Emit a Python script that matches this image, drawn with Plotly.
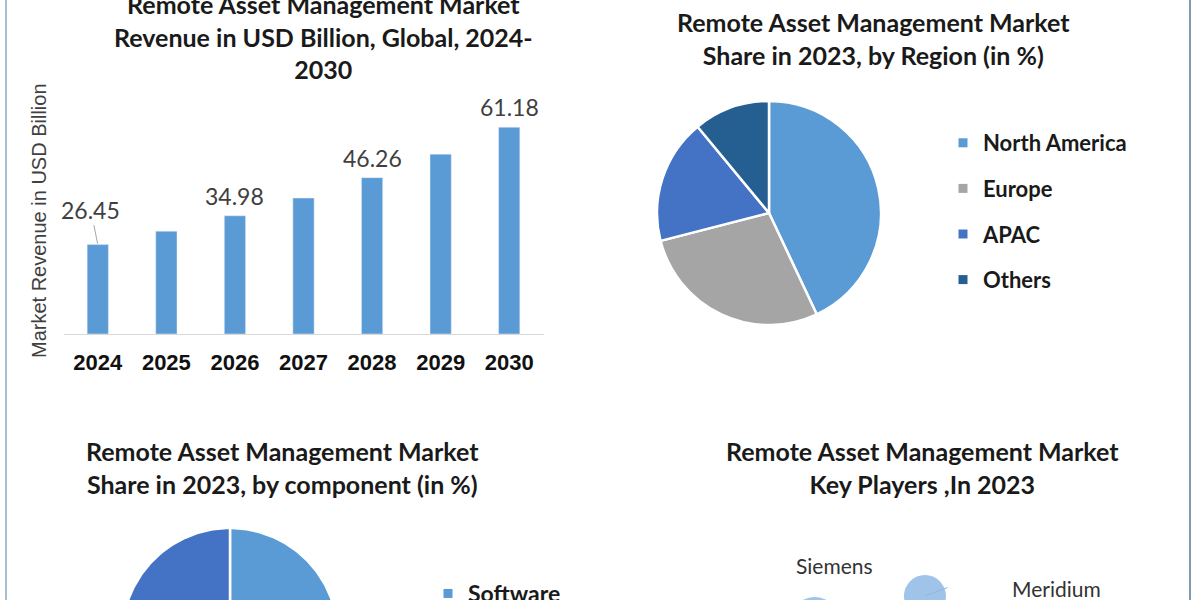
import numpy as np
import plotly.graph_objects as go

# ---------------- data ----------------
years = ["2024", "2025", "2026", "2027", "2028", "2029", "2030"]
revenue = [26.45, 30.42, 34.98, 40.23, 46.26, 53.20, 61.18]
labeled_years = ["2024", "2026", "2028", "2030"]

regions = ["North America", "Europe", "APAC", "Others"]
region_share = [43, 28, 18, 11]

components = ["Software", "Hardware", "Services"]
component_share = [42, 28, 30]

players = ["Siemens", "Meridium"]
player_x = [2.35, 4.61]
player_y = [-2.2, 0.4]
player_size = [50, 42]

titles = {
    "bar": "Remote Asset Management Market<br>Revenue in USD Billion, Global, 2024-<br>2030",
    "region": "Remote Asset Management Market<br>Share in 2023, by Region (in %)",
    "component": "Remote Asset Management Market<br>Share in 2023, by component (in %)",
    "players": "Remote Asset Management Market<br>Key Players ,In 2023",
}

# ---------------- styles ----------------
W, H = 1200, 600
def fx(px):
    return px / W
def fy(py):
    return 1 - py / H

region_colors = ["#5B9BD5", "#A5A5A5", "#4472C4", "#255E91"]
component_colors = ["#5B9BD5", "#A5A5A5", "#4472C4"]
BAR_COLOR = "#5B9BD5"
TITLE_FONT = dict(family="Lato", size=25, color="#1a1a1a")
LABEL_FONT = dict(family="Lato", size=23, color="#404040")

fig = go.Figure()

# ---- bar chart ----
fig.add_trace(go.Bar(x=years, y=revenue, marker_color=BAR_COLOR, width=0.31,
                     showlegend=False, hoverinfo="x+y", xaxis="x", yaxis="y"))

for yr in labeled_years:
    i = years.index(yr)
    v = revenue[i]
    if i == 0:
        fig.add_annotation(x=i, y=v, xref="x", yref="y", text=f"{v:.2f}",
                           showarrow=True, arrowhead=0, arrowwidth=1, arrowcolor="#a6a6a6",
                           ax=-7, ay=-35, standoff=1, xanchor="center", font=LABEL_FONT)
    else:
        fig.add_annotation(x=i, y=v, xref="x", yref="y", text=f"{v:.2f}",
                           showarrow=False, xanchor="center", yanchor="bottom", yshift=4,
                           font=LABEL_FONT)

# ---- region pie ----
fig.add_trace(go.Pie(labels=regions, values=region_share, sort=False, direction="clockwise",
                     rotation=0, textinfo="none", showlegend=False,
                     marker=dict(colors=region_colors, line=dict(color="white", width=2.5)),
                     domain=dict(x=[fx(657), fx(881)], y=[fy(325), fy(101)])))

# ---- component pie (its centre lies below the frame; drawn on clipped axes) ----
cum = np.concatenate([[0], np.cumsum(component_share)]) / np.sum(component_share) * 360
for i, name in enumerate(components):
    th = np.radians(np.linspace(cum[i], cum[i + 1], 120))
    xs = np.concatenate([[0], np.sin(th), [0]])
    ys = np.concatenate([[0], np.cos(th), [0]])
    fig.add_trace(go.Scatter(x=xs, y=ys, fill="toself", mode="lines",
                             fillcolor=component_colors[i], line=dict(color="white", width=2.5),
                             showlegend=False, hoverinfo="skip", name=name,
                             xaxis="x3", yaxis="y3"))

# ---- key players bubbles ----
fig.add_trace(go.Scatter(x=player_x, y=player_y, mode="markers",
                         marker=dict(size=player_size, color="#78ABDF", line=dict(width=0)),
                         showlegend=False, text=players, hoverinfo="text",
                         xaxis="x4", yaxis="y4"))
label_pos = [(20, 565), (132, 588)]   # (x shift in px, label row in px from top)
for name, xv, (dx, py) in zip(players, player_x, label_pos):
    fig.add_annotation(x=xv, y=fy(py), xref="x4", yref="paper", text=name, showarrow=False,
                       xshift=dx, xanchor="center", yanchor="middle",
                       font=dict(family="Lato", size=21, color="#333333"))
# short leader line on the Meridium bubble
fig.add_annotation(x=player_x[1], y=player_y[1], xref="x4", yref="y4", text="",
                   showarrow=True, arrowhead=0, arrowwidth=1, arrowcolor="#8fb6de",
                   ax=24, ay=-9, standoff=0)

# ---- legends (square markers) ----
for name, c in zip(regions, region_colors):
    fig.add_trace(go.Scatter(x=[None], y=[None], mode="markers", name=name,
                             marker=dict(symbol="square", size=9, color=c),
                             legend="legend", legendgroup=name, xaxis="x4", yaxis="y4"))
for name, c in zip(components, component_colors):
    fig.add_trace(go.Scatter(x=[None], y=[None], mode="markers", name=name,
                             marker=dict(symbol="square", size=9, color=c),
                             legend="legend2", legendgroup="c_" + name, xaxis="x4", yaxis="y4"))

# ---- titles ----
for key, (cx, cy) in {"bar": (323, 37), "region": (873, 38.5),
                      "component": (282, 467), "players": (922, 467)}.items():
    fig.add_annotation(x=fx(cx), y=fy(cy), xref="paper", yref="paper",
                       text="<b>" + titles[key] + "</b>", showarrow=False, font=TITLE_FONT,
                       align="center", xanchor="center", yanchor="middle")

# y-axis title of the bar chart
fig.add_annotation(x=fx(39), y=fy(221), xref="paper", yref="paper",
                   text="Market Revenue in USD Billion", textangle=-90, showarrow=False,
                   xanchor="center", yanchor="middle",
                   font=dict(family="Liberation Sans", size=20, color="#404040"))

# frame lines
fig.add_shape(type="line", xref="paper", yref="paper", x0=fx(6), x1=fx(6), y0=0, y1=1,
              line=dict(color="#A9BFD0", width=2))
fig.add_shape(type="line", xref="paper", yref="paper", x0=fx(1190), x1=fx(1190), y0=0, y1=1,
              line=dict(color="#7F9BB2", width=2))

fig.update_layout(
    width=W, height=H,
    margin=dict(l=0, r=0, t=0, b=0, autoexpand=False),
    paper_bgcolor="white", plot_bgcolor="rgba(0,0,0,0)",
    bargap=0.69,
    xaxis=dict(domain=[fx(63.5), fx(543.5)], type="category", categoryorder="array",
               categoryarray=years, range=[-0.5, len(years) - 0.5],
               showline=True, linecolor="#D9D9D9", linewidth=1,
               ticks="outside", ticklen=9, tickcolor="rgba(0,0,0,0)",
               showgrid=False, zeroline=False,
               tickfont=dict(family="Liberation Sans", size=22, color="#111111", weight="bold"),
               fixedrange=True, anchor="y"),
    yaxis=dict(domain=[fy(334), fy(97.4)], range=[0, 70], visible=False, fixedrange=True, anchor="x"),
    xaxis3=dict(domain=[fx(100), fx(360)], range=[-130 / 108, 130 / 108], visible=False, anchor="y3"),
    yaxis3=dict(domain=[0, fy(510)], range=[36 / 108, 126 / 108], visible=False, anchor="x3"),
    xaxis4=dict(domain=[fx(700), fx(1188)], range=[0, 10], visible=False, anchor="y4"),
    yaxis4=dict(domain=[0, fy(500)], range=[0, 10], visible=False, anchor="x4"),
    legend=dict(x=fx(943), y=fy(122), xanchor="left", yanchor="top", tracegroupgap=14,
                font=dict(family="Lato", size=22, color="#1a1a1a", weight="bold"),
                bgcolor="rgba(0,0,0,0)", itemclick=False, itemdoubleclick=False),
    legend2=dict(x=fx(428), y=fy(572), xanchor="left", yanchor="top", tracegroupgap=14,
                 font=dict(family="Lato", size=23, color="#1a1a1a", weight="bold"),
                 bgcolor="rgba(0,0,0,0)", itemclick=False, itemdoubleclick=False),
)

fig.write_html("out.html", config={"displayModeBar": False},
               post_script="document.body.style.margin='0';document.body.style.overflow='hidden';")
